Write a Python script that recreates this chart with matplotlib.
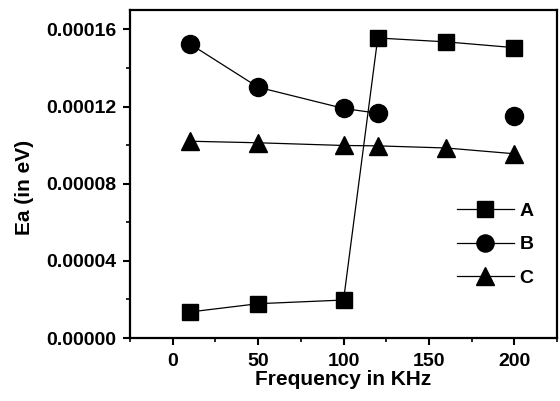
import matplotlib

matplotlib.use("Agg")
import matplotlib.pyplot as plt
import numpy as np
from matplotlib.ticker import FormatStrFormatter, MultipleLocator

plt.rcParams["font.family"] = ["Liberation Sans", "DejaVu Sans"]
plt.rcParams["font.weight"] = "bold"

freq_a = [10, 50, 100, 120, 160, 200]
ea_a = [1.35e-5, 1.78e-5, 1.97e-5, 1.555e-4, 1.535e-4, 1.505e-4]

freq_b = [10, 50, 100, 120, 160, 200]
ea_b = [1.525e-4, 1.30e-4, 1.19e-4, 1.165e-4, np.nan, 1.15e-4]

freq_c = [10, 50, 100, 120, 160, 200]
ea_c = [1.02e-4, 1.012e-4, 0.998e-4, 0.996e-4, 0.985e-4, 0.955e-4]

fig = plt.figure(figsize=(5.6, 4.01), dpi=100)
ax = fig.add_axes([0.232, 0.157, 0.763, 0.818])

line_kw = dict(color="black", linewidth=0.9, markeredgecolor="black", markerfacecolor="black")
ax.plot(freq_a, ea_a, marker="s", markersize=11.5, label="A", **line_kw)
ax.plot(freq_b, ea_b, marker="o", markersize=13, label="B", **line_kw)
ax.plot(freq_c, ea_c, marker="^", markersize=13, label="C", **line_kw)

ax.set_xlim(-25, 225)
ax.set_ylim(0, 0.00017)
ax.xaxis.set_major_locator(MultipleLocator(50))
ax.xaxis.set_minor_locator(MultipleLocator(25))
ax.yaxis.set_major_locator(MultipleLocator(0.00004))
ax.yaxis.set_minor_locator(MultipleLocator(0.00002))
ax.yaxis.set_major_formatter(FormatStrFormatter("%.5f"))

for side in ["left", "bottom", "top", "right"]:
    ax.spines[side].set_linewidth(1.6)
ax.tick_params(which="major", direction="out", length=5, width=1.5, labelsize=14, pad=4.5)
ax.tick_params(axis="x", which="major", pad=6)
ax.tick_params(which="minor", direction="out", length=3, width=1.2)

ax.set_xlabel("Frequency in KHz", fontsize=15, fontweight="bold", labelpad=0)
ax.set_ylabel("Ea (in eV)", fontsize=15, fontweight="bold")
ax.yaxis.set_label_coords(-0.225, 0.46)

ax.legend(loc="upper left", bbox_to_anchor=(0.766, 0.413), frameon=False, fontsize=14,
          handlelength=2.9, labelspacing=0.8, markerscale=0.95, handletextpad=0.3,
          borderpad=0, borderaxespad=0)

fig.savefig("out.png", dpi=100)
plt.close(fig)
